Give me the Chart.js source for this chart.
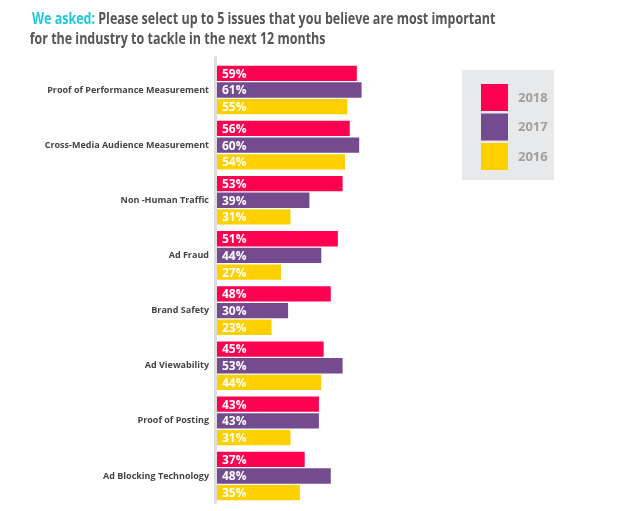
<!DOCTYPE html>
<html>
<head>
<meta charset="utf-8">
<script src="https://cdn.jsdelivr.net/npm/chart.js@4.4.1/dist/chart.umd.min.js"></script>
<style>
  html, body { margin: 0; padding: 0; background: #ffffff; overflow: hidden; }
  #wrap { position: relative; width: 630px; height: 511px; overflow: hidden; }
  #title { position: absolute; left: 32px; top: 8px; font-family: "Open Sans", sans-serif; font-weight: 700;
           font-size: 16px; line-height: 20px; color: #555555; white-space: nowrap;
           transform: scaleX(0.78); transform-origin: left top; }
  #title .hl { color: #1ec8df; }
  #title .l2 { margin-left: -3px; }
  canvas { position: absolute; left: 0; top: 0; }
</style>
</head>
<body>
<div id="wrap">
  <canvas id="c" width="630" height="517"></canvas>
  <div id="title"><span class="hl">We asked:</span> Please select up to 5 issues that you believe are most important<br><span class="l2">for the industry to tackle in the next 12 months</span></div>
</div>
<script>
const categories = ['Proof of Performance Measurement', 'Cross-Media Audience Measurement', 'Non -Human Traffic', 'Ad Fraud', 'Brand Safety', 'Ad Viewability', 'Proof of Posting', 'Ad Blocking Technology'];
const seriesNames = ['2018', '2017', '2016'];
const values2018 = [59, 56, 53, 51, 48, 45, 43, 37];
const values2017 = [61, 60, 39, 44, 30, 53, 43, 48];
const values2016 = [55, 54, 31, 27, 23, 44, 31, 35];
const colors = ['#ff0050', '#744b8e', '#ffd000'];

const valueLabels = {
  id: 'valueLabels',
  afterDatasetsDraw(chart) {
    const ctx = chart.ctx;
    ctx.save();
    ctx.font = 'bold 12px "Open Sans", sans-serif';
    ctx.fillStyle = '#ffffff';
    ctx.textAlign = 'left';
    ctx.textBaseline = 'middle';
    chart.data.datasets.forEach((ds, i) => {
      chart.getDatasetMeta(i).data.forEach((bar, j) => {
        ctx.fillText(ds.data[j] + '%', bar.base + 5, bar.y + 1);
      });
    });
    ctx.restore();
  }
};

const axisLine = {
  id: 'axisLine',
  afterDatasetsDraw(chart) {
    const ctx = chart.ctx, a = chart.chartArea;
    ctx.save();
    ctx.fillStyle = '#dddddd';
    ctx.fillRect(a.left - 3, a.top - 6, 3, a.bottom - a.top + 6);
    ctx.restore();
  }
};

const boxLegend = {
  id: 'boxLegend',
  afterDraw(chart) {
    const ctx = chart.ctx;
    ctx.save();
    ctx.fillStyle = '#e8e9eb';
    ctx.fillRect(462, 70, 92, 110);
    chart.data.datasets.forEach((ds, i) => {
      const y = 84 + i * 29.5;
      ctx.fillStyle = ds.backgroundColor;
      ctx.fillRect(481, y, 27, 27);
      ctx.fillStyle = '#a0a0a0';
      ctx.font = 'bold 13px "Open Sans", sans-serif';
      ctx.textBaseline = 'middle';
      ctx.textAlign = 'left';
      ctx.fillText(ds.label, 518, y + 14);
    });
    ctx.restore();
  }
};

new Chart(document.getElementById('c'), {
  type: 'bar',
  data: {
    labels: categories,
    datasets: [
      { label: seriesNames[0], data: values2018, backgroundColor: colors[0] },
      { label: seriesNames[1], data: values2017, backgroundColor: colors[1] },
      { label: seriesNames[2], data: values2016, backgroundColor: colors[2] }
    ]
  },
  options: {
    indexAxis: 'y',
    responsive: false,
    animation: false,
    devicePixelRatio: 1,
    layout: { autoPadding: false, padding: { left: 0, right: 176, top: 62.4, bottom: 7.4 } },
    datasets: { bar: { categoryPercentage: 0.907, barPercentage: 0.92, borderWidth: 0 } },
    plugins: { legend: { display: false }, title: { display: false }, tooltip: { enabled: false } },
    scales: {
      x: { display: false, min: 0, max: 100 },
      y: {
        grid: { display: false, drawTicks: false },
        border: { display: false },
        afterFit(scale) { scale.width = 217; },
        ticks: { color: '#444444', padding: 8, font: { family: '"Open Sans", sans-serif', weight: 'bold', size: 9 } }
      }
    }
  },
  plugins: [valueLabels, axisLine, boxLegend]
});
</script>
</body>
</html>
